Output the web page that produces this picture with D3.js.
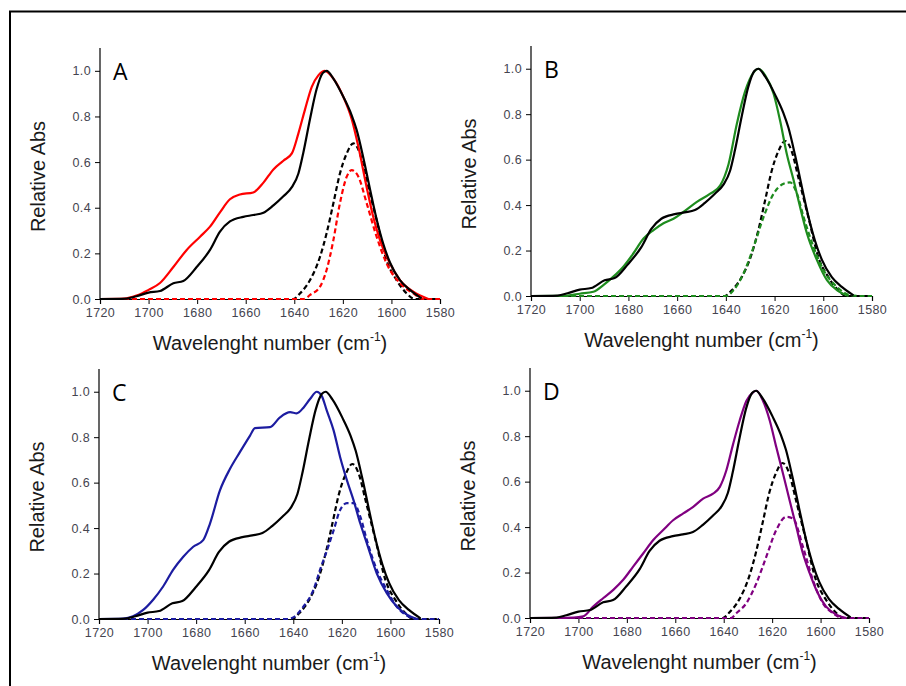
<!DOCTYPE html>
<html><head><meta charset="utf-8">
<script src="https://cdn.jsdelivr.net/npm/d3@7"></script>
<style>body{margin:0;background:#fff}svg{display:block}</style>
</head><body>
<script>
// ---------- DATA (wavenumber cm-1, relative absorbance) ----------
const xTicks = [1720, 1700, 1680, 1660, 1640, 1620, 1600, 1580];
const yTicks = [0.0, 0.2, 0.4, 0.6, 0.8, 1.0];
const panelLetters = ["A", "B", "C", "D"];
const seriesColors = ["#ff0000", "#1e8c1e", "#1c1ca0", "#800080"];
const xTitle = "Wavelenght number (cm";
const yTitle = "Relative Abs";

// Reference spectrum (black), same in every panel
const refSolid = [[1720,0],[1709,0.002],[1705,0.012],[1700,0.028],[1695.3,0.035],[1689.8,0.069],[1685.7,0.079],[1680.2,0.14],[1674.7,0.215],[1670.6,0.295],[1666.5,0.34],[1661,0.36],[1656.9,0.368],[1652.7,0.378],[1648.6,0.41],[1644.5,0.45],[1641,0.49],[1638.3,0.55],[1636.3,0.64],[1633.5,0.79],[1630.8,0.92],[1628.3,0.99],[1626.7,1.0],[1623.9,0.966],[1619.8,0.886],[1616.4,0.806],[1614.3,0.74],[1611.6,0.62],[1608.8,0.48],[1606.1,0.35],[1603.3,0.24],[1600.6,0.16],[1596.5,0.083],[1592.4,0.04],[1587.6,0.003]];
const refDashed = [[1720,0],[1640.4,0],[1637.6,0.025],[1633.5,0.083],[1629.4,0.185],[1626.7,0.288],[1623.9,0.42],[1621.2,0.55],[1618.4,0.638],[1615.7,0.682],[1613,0.638],[1610.2,0.52],[1606.1,0.346],[1602,0.17],[1597.9,0.083],[1593.8,0.025],[1590.4,0],[1580,0]];

// Panel A (red)
const sampleA = [[1720,0],[1710,0.002],[1705,0.015],[1700,0.04],[1695.3,0.07],[1689.8,0.14],[1684.3,0.215],[1678.8,0.273],[1674.7,0.317],[1670.6,0.38],[1666.5,0.437],[1662.4,0.458],[1656.9,0.467],[1652.7,0.51],[1648.6,0.568],[1644.5,0.606],[1641,0.638],[1638.3,0.726],[1635.6,0.83],[1632.8,0.93],[1630.1,0.98],[1627.4,1.0],[1623.9,0.966],[1619.8,0.886],[1616.4,0.79],[1613.6,0.667],[1610.2,0.49],[1607.5,0.36],[1604.7,0.258],[1600.6,0.156],[1596.5,0.083],[1591,0.032],[1584.8,0]];
const sampleADashed = [[1720,0],[1636,0],[1633.5,0.018],[1629.4,0.054],[1626.7,0.127],[1623.9,0.258],[1621.2,0.42],[1618.4,0.536],[1616.4,0.565],[1613.6,0.536],[1610.2,0.42],[1606.1,0.273],[1602,0.156],[1596.5,0.069],[1591,0.025],[1586.9,0],[1580,0]];

// Panel B (green)
const sampleB = [[1720,0],[1705,0.002],[1700,0.01],[1694.4,0.019],[1690.3,0.048],[1686.2,0.085],[1682.1,0.129],[1678,0.187],[1673.8,0.253],[1669.7,0.29],[1665.6,0.32],[1661.5,0.34],[1657.4,0.37],[1651.9,0.414],[1646.4,0.45],[1642.3,0.487],[1638.9,0.58],[1635.5,0.757],[1632.1,0.9],[1628.6,0.984],[1626.6,1.0],[1623.8,0.97],[1620.4,0.89],[1617.7,0.77],[1615,0.626],[1612.2,0.51],[1609.5,0.39],[1606.7,0.275],[1602.6,0.158],[1598.5,0.07],[1594.4,0.026],[1589.6,0]];
const sampleBDashed = [[1720,0],[1640,0],[1636.8,0.026],[1632.7,0.1],[1628.6,0.216],[1624.5,0.348],[1620.4,0.45],[1616.3,0.494],[1613.6,0.5],[1610.8,0.45],[1608.1,0.348],[1604,0.216],[1599.9,0.114],[1594.4,0.04],[1589,0.004],[1585,0],[1580,0]];

// Panel C (blue)
const sampleC = [[1720,0],[1710,0.002],[1706,0.012],[1701.8,0.04],[1697.7,0.085],[1693.6,0.143],[1689.5,0.216],[1685.3,0.274],[1681.2,0.318],[1677.1,0.347],[1674.3,0.42],[1670.2,0.566],[1666.1,0.66],[1662,0.734],[1657.8,0.807],[1655.8,0.84],[1649.6,0.844],[1645.5,0.887],[1641.3,0.91],[1638.6,0.905],[1635.8,0.93],[1633.1,0.968],[1630.3,1.0],[1628.3,0.982],[1626.2,0.917],[1623.4,0.83],[1620.7,0.712],[1617.9,0.61],[1615.2,0.523],[1612.4,0.42],[1609.7,0.333],[1605.6,0.2],[1601.5,0.114],[1597.4,0.055],[1593.2,0.019],[1589.1,0]];
const sampleCDashed = [[1720,0],[1642,0],[1640,0.007],[1635.8,0.055],[1631.7,0.128],[1629,0.216],[1626.2,0.3],[1623.4,0.39],[1620.7,0.48],[1617.9,0.51],[1615.2,0.51],[1612.4,0.45],[1609.7,0.347],[1605.6,0.216],[1601.5,0.128],[1597.4,0.055],[1593.2,0.015],[1589.1,0],[1580,0]];

// Panel D (purple)
const sampleD = [[1720,0],[1702,0.002],[1698,0.007],[1693.9,0.05],[1689.7,0.088],[1685.6,0.124],[1681.5,0.168],[1677.4,0.226],[1673.2,0.285],[1669.1,0.343],[1665,0.387],[1660.9,0.43],[1656.7,0.46],[1652.6,0.489],[1648.5,0.525],[1644.4,0.547],[1641.6,0.577],[1638.9,0.65],[1636.1,0.766],[1633.4,0.869],[1630.6,0.956],[1627.9,0.993],[1626.5,1.0],[1623.8,0.956],[1621,0.869],[1618.3,0.752],[1615.5,0.635],[1612.8,0.518],[1610,0.4],[1607.3,0.285],[1604.5,0.197],[1601.8,0.124],[1597.7,0.05],[1593.5,0.015],[1589.4,0]];
const sampleDDashed = [[1720,0],[1637,0],[1634.7,0.022],[1630.6,0.066],[1626.5,0.153],[1622.4,0.27],[1618.3,0.387],[1614.2,0.445],[1611.4,0.438],[1607.3,0.314],[1603.2,0.168],[1599.1,0.066],[1595,0.022],[1590.8,0],[1580,0]];

const sampleSolids = [sampleA, sampleB, sampleC, sampleD];
const sampleDashes = [sampleADashed, sampleBDashed, sampleCDashed, sampleDDashed];

// ---------- LAYOUT ----------
const W = 906, H = 686;
const boxes = [
  {l:100, r:440, t:48,  b:299},
  {l:531, r:872, t:46,  b:296},
  {l:99,  r:439, t:369, b:619},
  {l:530, r:869, t:368, b:618}
];

const svg = d3.select("body").append("svg").attr("width", W).attr("height", H);

// frame
svg.append("path").attr("d", `M10,${H} V11.5 H${W}`).attr("fill","none").attr("stroke","#000").attr("stroke-width",2);

boxes.forEach((bx, i) => {
  const x = d3.scaleLinear().domain([1720, 1580]).range([bx.l, bx.r]);
  const y = d3.scaleLinear().domain([0, 1.1]).range([bx.b, bx.t]);
  const g = svg.append("g");

  const tickFont = (sel) => sel.attr("font-family","Liberation Sans, Arial, sans-serif")
    .attr("font-size",12.5).attr("letter-spacing",0.4).attr("fill","#44444f");

  // x axis
  const xMinor = d3.range(1720, 1579, -10);
  const xa = g.append("g").attr("transform", `translate(0,${bx.b})`);
  xa.call(d3.axisBottom(x).tickValues(xMinor).tickSize(3).tickFormat(""));
  xa.call(d3.axisBottom(x).tickValues(xTicks).tickSize(5).tickFormat(d3.format("d")).tickPadding(4));
  xa.selectAll("path.domain").attr("stroke","#000").attr("stroke-width",1.2);
  xa.selectAll("line").attr("stroke","#000");
  xa.selectAll("text").call(tickFont);

  // y axis
  const yMinor = d3.range(0, 1.101, 0.1);
  const ya = g.append("g").attr("transform", `translate(${bx.l},0)`);
  ya.call(d3.axisLeft(y).tickValues(yMinor).tickSize(3).tickFormat(""));
  ya.call(d3.axisLeft(y).tickValues(yTicks).tickSize(5).tickFormat(d3.format(".1f")).tickPadding(4));
  ya.selectAll("path.domain").attr("stroke","#000").attr("stroke-width",1.2);
  ya.selectAll("line").attr("stroke","#000");
  ya.selectAll("text").call(tickFont);
  ya.selectAll("path.domain").attr("d", `M-0,${bx.b}V${bx.t}`);

  // titles
  const xt = g.append("text").attr("x", (bx.l + bx.r)/2).attr("y", bx.b + 51)
    .attr("text-anchor","middle").attr("font-family","Liberation Sans, Arial, sans-serif")
    .attr("font-size",20).attr("fill","#1a1a1a");
  xt.append("tspan").text(xTitle);
  xt.append("tspan").attr("font-size",12).attr("dy",-9).text("-1");
  xt.append("tspan").attr("dy",9).text(")");

  g.append("text").attr("transform", `translate(${bx.l - 55},${(bx.t + bx.b)/2 + 3}) rotate(-90)`)
    .attr("text-anchor","middle").attr("font-family","Liberation Sans, Arial, sans-serif")
    .attr("font-size",20).attr("fill","#1a1a1a").text(yTitle);

  g.append("text").attr("x", bx.l + 13).attr("y", y(1.0) + 9)
    .attr("font-family","Open Sans, Lato, sans-serif").attr("font-size",23).attr("fill","#000")
    .text(panelLetters[i]);

  // curves
  const line = d3.line().x(d => x(d[0])).y(d => y(d[1])).curve(d3.curveMonotoneX);
  const plot = [
    {d: refDashed, c: "#000", dash: "5,3"},
    {d: sampleDashes[i], c: seriesColors[i], dash: "5,3"},
    {d: sampleSolids[i], c: seriesColors[i], dash: null},
    {d: refSolid, c: "#000", dash: null}
  ];
  plot.forEach(p => {
    g.append("path").datum(p.d).attr("d", line).attr("fill","none")
      .attr("stroke", p.c).attr("stroke-width", 2.2)
      .attr("stroke-dasharray", p.dash).attr("stroke-linejoin","round");
  });
});
</script>
</body></html>
